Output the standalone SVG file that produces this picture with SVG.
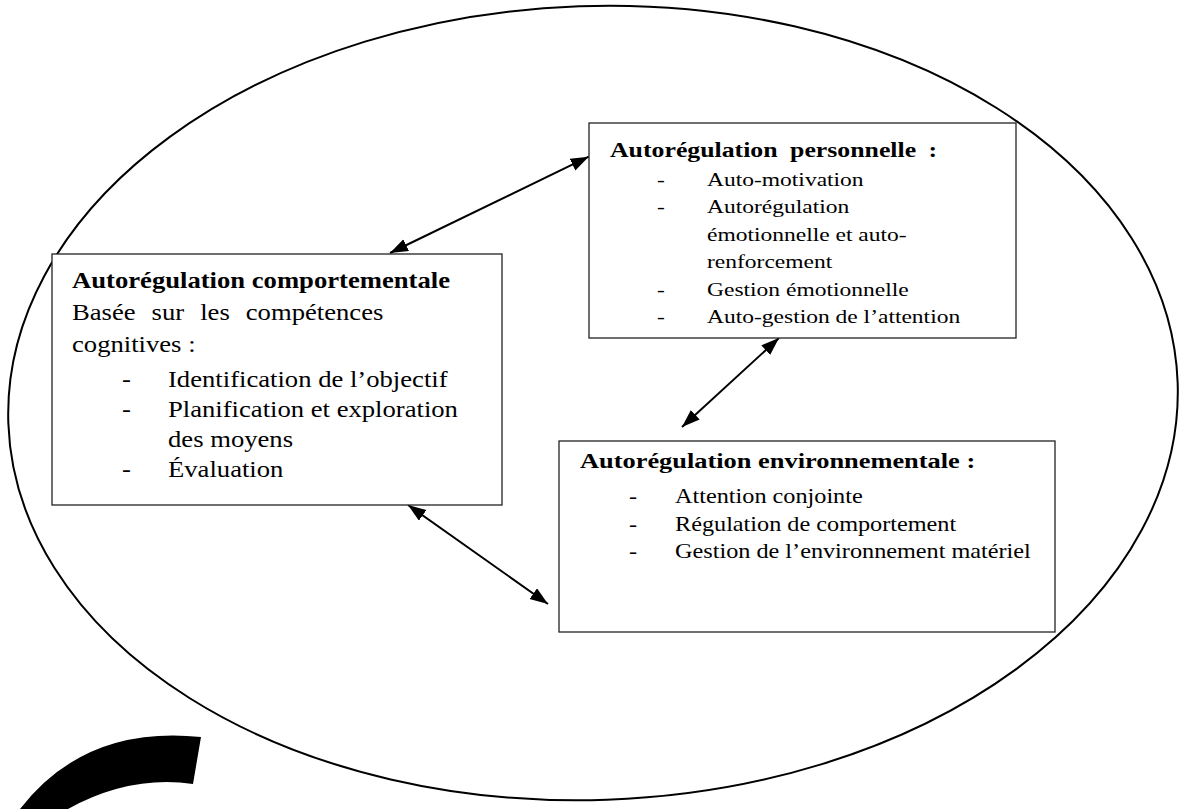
<svg xmlns="http://www.w3.org/2000/svg" width="1181" height="809" viewBox="0 0 1181 809">
<defs>
<style>
text{font-family:"Liberation Serif","Times New Roman",serif;fill:#000}
.b{font-weight:bold}
.box{fill:#fff;stroke:#222;stroke-width:1.3}
.conn{stroke:#000;stroke-width:2;fill:none;marker-start:url(#ah);marker-end:url(#ah)}
</style>
<marker id="ah" markerUnits="userSpaceOnUse" markerWidth="19" markerHeight="14" refX="18" refY="6.5" orient="auto-start-reverse">
<path d="M0,0 L18,6.5 L0,13 Z" fill="#000"/>
</marker>
</defs>
<rect width="1181" height="809" fill="#fff"/>
<ellipse cx="593" cy="403" rx="585" ry="397" fill="none" stroke="#000" stroke-width="2" transform="rotate(-2 593 403)"/>
<path d="M20,809 Q85,725 201,737 L193,784 Q130,775 68,809 Z" fill="#000"/>

<g id="connectors">
<line class="conn" x1="390" y1="253" x2="588.7" y2="156.7"/>
<line class="conn" x1="408" y1="505" x2="548" y2="604"/>
<line class="conn" x1="779" y1="338" x2="682" y2="427"/>
</g>

<g id="node-personnelle">
<rect class="box" x="589" y="123" width="427" height="215"/>
<text class="b" font-size="21.5" word-spacing="5" transform="matrix(1.2,0,0,1,610,157)">Autorégulation personnelle :</text>
<g font-size="19.6">
<text transform="matrix(1.2,0,0,1,657,186)">-</text>
<text transform="matrix(1.2,0,0,1,707,186)">Auto-motivation</text>
<text transform="matrix(1.2,0,0,1,657,213)">-</text>
<text transform="matrix(1.2,0,0,1,707,213)">Autorégulation</text>
<text transform="matrix(1.2,0,0,1,707,241)">émotionnelle et auto-</text>
<text transform="matrix(1.2,0,0,1,707,268)">renforcement</text>
<text transform="matrix(1.2,0,0,1,657,296)">-</text>
<text transform="matrix(1.2,0,0,1,707,296)">Gestion émotionnelle</text>
<text transform="matrix(1.2,0,0,1,657,323)">-</text>
<text transform="matrix(1.2,0,0,1,707,323)">Auto-gestion de l’attention</text>
</g>
</g>

<g id="node-comportementale">
<rect class="box" x="52" y="254" width="450" height="251"/>
<text class="b" font-size="22.2" transform="matrix(1.2,0,0,1,72,288)">Autorégulation comportementale</text>
<g font-size="22.2">
<text word-spacing="7.8" transform="matrix(1.2,0,0,1,72,320)">Basée sur les compétences</text>
<text transform="matrix(1.2,0,0,1,72,352)">cognitives :</text>
<text transform="matrix(1.2,0,0,1,122,387)">-</text>
<text transform="matrix(1.2,0,0,1,168,387)">Identification de l’objectif</text>
<text transform="matrix(1.2,0,0,1,122,417)">-</text>
<text transform="matrix(1.2,0,0,1,168,417)">Planification et exploration</text>
<text transform="matrix(1.2,0,0,1,168,447)">des moyens</text>
<text transform="matrix(1.2,0,0,1,122,477)">-</text>
<text transform="matrix(1.2,0,0,1,168,477)">Évaluation</text>
</g>
</g>

<g id="node-environnementale">
<rect class="box" x="559" y="441" width="496" height="191"/>
<text class="b" font-size="22" transform="matrix(1.2,0,0,1,580,468)">Autorégulation environnementale :</text>
<g font-size="20.2">
<text transform="matrix(1.2,0,0,1,629,503)">-</text>
<text transform="matrix(1.2,0,0,1,675,503)">Attention conjointe</text>
<text transform="matrix(1.2,0,0,1,629,531)">-</text>
<text transform="matrix(1.2,0,0,1,675,531)">Régulation de comportement</text>
<text transform="matrix(1.2,0,0,1,629,558)">-</text>
<text transform="matrix(1.2,0,0,1,675,558)">Gestion de l’environnement matériel</text>
</g>
</g>
</svg>
